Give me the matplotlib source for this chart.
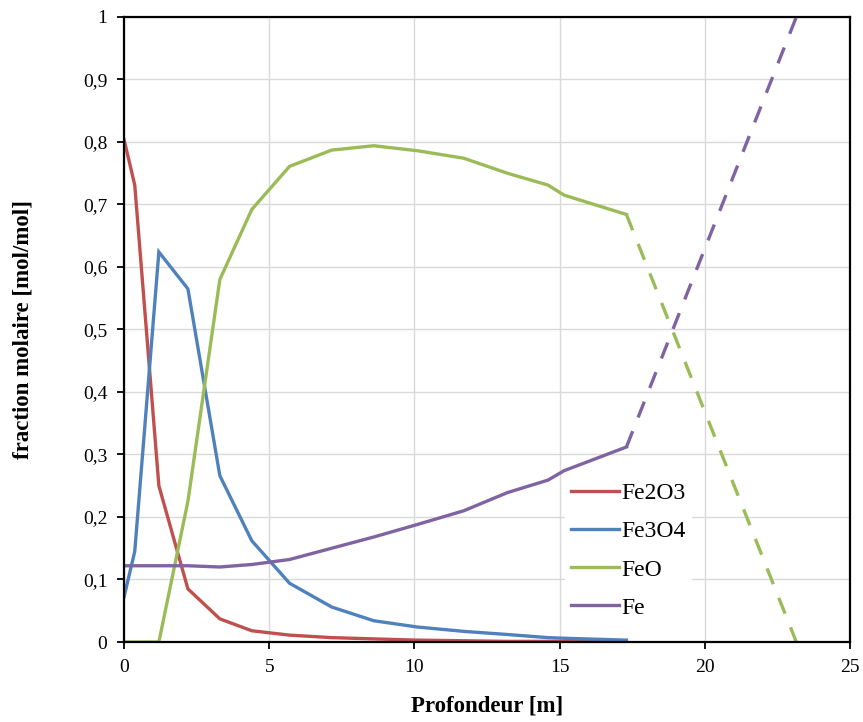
import matplotlib
matplotlib.use("Agg")
import matplotlib.pyplot as plt
from matplotlib.ticker import FixedLocator, FuncFormatter

# Data (depth in m, molar fractions)
depth = [0, 0.37, 1.2, 2.2, 3.3, 4.4, 5.7, 7.15, 8.6, 10.1, 11.7, 13.2, 14.6, 15.15, 17.3]
fe2o3 = [0.804, 0.731, 0.25, 0.085, 0.037, 0.018, 0.011, 0.007, 0.005, 0.003, 0.002, 0.001, 0.001, 0.001, 0.0]
fe3o4 = [0.072, 0.145, 0.624, 0.565, 0.266, 0.162, 0.094, 0.056, 0.034, 0.024, 0.017, 0.012, 0.007, 0.006, 0.003]
feo = [0.0, 0.0, 0.0, 0.225, 0.58, 0.692, 0.761, 0.787, 0.794, 0.786, 0.774, 0.75, 0.731, 0.715, 0.684]
fe = [0.122, 0.122, 0.122, 0.122, 0.12, 0.124, 0.132, 0.15, 0.168, 0.188, 0.21, 0.239, 0.259, 0.274, 0.312]

depth_ext = [17.3, 23.15]
feo_ext = [0.684, 0.0]
fe_ext = [0.312, 1.0]

labels = ["Fe2O3", "Fe3O4", "FeO", "Fe"]
colors = ["#C0504D", "#4F81BD", "#9BBB59", "#8064A2"]

plt.rcParams['font.family'] = ['Liberation Serif', 'DejaVu Serif']

fig = plt.figure(figsize=(8.63, 7.22), dpi=100)
ax = fig.add_axes([0.1437, 0.1108, 0.8413, 0.8657])

lw = 2.4
for series, lab, col in zip([fe2o3, fe3o4, feo, fe], labels, colors):
    ax.plot(depth, series, color=col, lw=lw, label=lab, solid_joinstyle='miter')

dash = (0, (5.1, 4.42))
ax.plot(depth_ext, feo_ext, color=colors[2], lw=lw, linestyle=dash)
ax.plot(depth_ext, fe_ext, color=colors[3], lw=lw, linestyle=dash)

ax.set_xlim(0, 25)
ax.set_ylim(0, 1)
ax.xaxis.set_major_locator(FixedLocator([0, 5, 10, 15, 20, 25]))
ax.yaxis.set_major_locator(FixedLocator([i / 10 for i in range(11)]))
ax.yaxis.set_major_formatter(FuncFormatter(lambda v, p: ("%g" % round(v, 1)).replace(".", ",")))
ax.grid(True, color="#D9D9D9", lw=1.0)
ax.set_axisbelow(True)
for s in ax.spines.values():
    s.set_color("black")
    s.set_linewidth(1.6)
ax.tick_params(direction="out", length=5, width=1.3, colors="black", labelsize=14)
ax.tick_params(axis="x", pad=7)
ax.tick_params(axis="y", pad=7)

ax.set_xlabel("Profondeur [m]", fontsize=16.5, fontweight="bold", labelpad=14)
ax.set_ylabel("fraction molaire [mol/mol]", fontsize=16.5, fontweight="bold")
ax.yaxis.set_label_coords(-0.125, 0.5)

leg = ax.legend(loc="upper left", bbox_to_anchor=(0.608, 0.264), borderaxespad=0,
                frameon=True, fontsize=17, handlelength=2.0, handletextpad=0.12,
                labelspacing=0.7, borderpad=0.25)
leg.get_frame().set_facecolor("white")
leg.get_frame().set_edgecolor("none")
leg.get_frame().set_alpha(1)
leg.get_frame().set_boxstyle("square", pad=0)

fig.savefig("out.png", dpi=100)
